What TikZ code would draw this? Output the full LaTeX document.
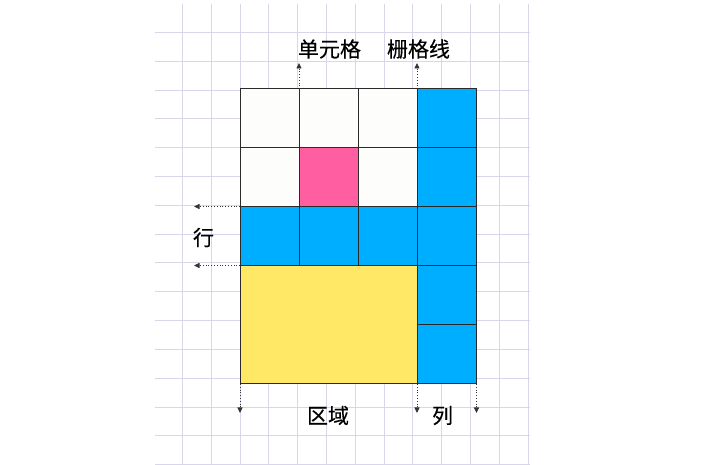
\documentclass[tikz,border=0pt]{standalone}
\usepackage{fontspec}
\newfontfamily\cjk[FakeBold=0.3]{Noto Sans CJK SC}
\usetikzlibrary{arrows.meta}
\definecolor{bggrid}{HTML}{D9D6EC}
\definecolor{cellwhite}{HTML}{FDFDFB}
\definecolor{cellblue}{HTML}{00AEFF}
\definecolor{cellpink}{HTML}{FF5FA0}
\definecolor{cellyellow}{HTML}{FFE866}
\definecolor{edge}{HTML}{2A2A2A}
\tikzset{
  bgline/.style={draw=bggrid, line width=0.9pt},
  cell/.style={draw=edge, line width=1pt},
  pointer/.style={draw=black!80, dotted, line width=0.8pt, -{Triangle[length=5.5pt,width=5pt]}},
  lbl/.style={font=\cjk\fontsize{21}{24}\selectfont, text=black, inner sep=0pt},
}
\begin{document}
\begin{tikzpicture}[x=1pt,y=-1pt]
\useasboundingbox (0,0) rectangle (716,465);
% background grid
\foreach \k in {0,...,12}{
  \draw[bgline] ({182.3+28.83*\k},4) -- ({182.3+28.83*\k},465);
}
\foreach \k in {0,...,15}{
  \draw[bgline] (155,{32.3+28.83*\k}) -- (530,{32.3+28.83*\k});
}
% grid corner coordinates
\def\Xa{240}\def\Xb{299}\def\Xc{358}\def\Xd{417}\def\Xe{476.5}
\def\Ya{89}\def\Yb{147.5}\def\Yc{206.5}\def\Yd{265.5}\def\Ye{325}\def\Yf{384}
% cells
\path[cell, fill=cellwhite] (\Xa,\Ya) rectangle (\Xb,\Yb);
\path[cell, fill=cellwhite] (\Xb,\Ya) rectangle (\Xc,\Yb);
\path[cell, fill=cellwhite] (\Xc,\Ya) rectangle (\Xd,\Yb);
\path[cell, fill=cellblue] (\Xd,\Ya) rectangle (\Xe,\Yb);
\path[cell, fill=cellwhite] (\Xa,\Yb) rectangle (\Xb,\Yc);
\path[cell, fill=cellpink] (\Xb,\Yb) rectangle (\Xc,\Yc);
\path[cell, fill=cellwhite] (\Xc,\Yb) rectangle (\Xd,\Yc);
\path[cell, fill=cellblue] (\Xd,\Yb) rectangle (\Xe,\Yc);
\path[cell, fill=cellblue] (\Xa,\Yc) rectangle (\Xb,\Yd);
\path[cell, fill=cellblue] (\Xb,\Yc) rectangle (\Xc,\Yd);
\path[cell, fill=cellblue] (\Xc,\Yc) rectangle (\Xd,\Yd);
\path[cell, fill=cellblue] (\Xd,\Yc) rectangle (\Xe,\Yd);
\path[cell, fill=cellyellow] (\Xa,\Yd) rectangle (\Xd,\Yf);
\path[cell, fill=cellblue] (\Xd,\Yd) rectangle (\Xe,\Ye);
\path[cell, fill=cellblue] (\Xd,\Ye) rectangle (\Xe,\Yf);
% anchor coordinates
\coordinate (cellTop) at (\Xb,\Ya);
\coordinate (cellTopEnd) at (\Xb,63);
\coordinate (lineTop) at (\Xd,\Ya);
\coordinate (lineTopEnd) at (\Xd,63);
\coordinate (rowA) at (\Xa,\Yc);
\coordinate (rowAEnd) at (194,\Yc);
\coordinate (rowB) at (\Xa,\Yd);
\coordinate (rowBEnd) at (194,\Yd);
\coordinate (areaL) at (\Xa,\Yf);
\coordinate (areaLEnd) at (\Xa,413);
\coordinate (areaR) at (\Xd,\Yf);
\coordinate (areaREnd) at (\Xd,413);
\coordinate (colR) at (\Xe,\Yf);
\coordinate (colREnd) at (\Xe,413);
% pointers
\draw[pointer] (cellTop) -- (cellTopEnd);
\draw[pointer] (lineTop) -- (lineTopEnd);
\draw[pointer] (rowA) -- (rowAEnd);
\draw[pointer] (rowB) -- (rowBEnd);
\draw[pointer] (areaL) -- (areaLEnd);
\draw[pointer] (areaR) -- (areaREnd);
\draw[pointer] (colR) -- (colREnd);
% labels
\node[lbl] (tCell) at (329.5,49) {单元格};
\node[lbl] (tLine) at (418.5,49) {栅格线};
\node[lbl] (tRow) at (203.5,237.5) {行};
\node[lbl] (tArea) at (328,415.5) {区域};
\node[lbl] (tCol) at (442.5,415.5) {列};
\end{tikzpicture}
\end{document}
